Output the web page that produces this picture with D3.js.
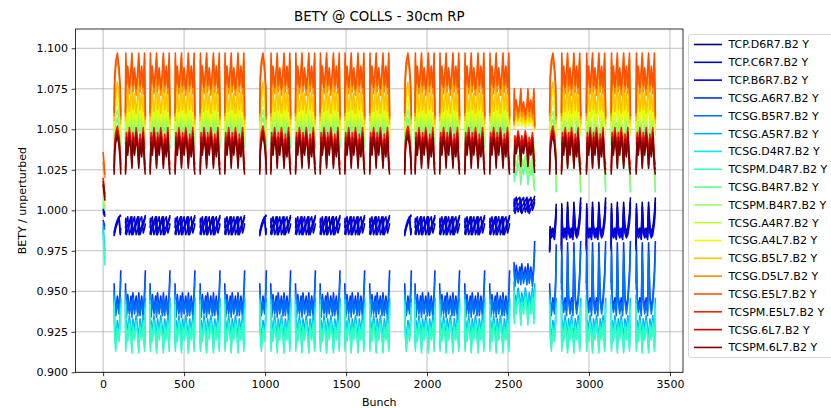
<!DOCTYPE html>
<html>
<head>
<meta charset="utf-8">
<script src="https://cdn.jsdelivr.net/npm/d3@7"></script>
<style>
  body { margin: 0; background: #fff; }
  svg { font-family: "DejaVu Sans", sans-serif; }
</style>
</head>
<body>
<svg class="chart"></svg>
<script>
var seriesNames = ['TCP.D6R7.B2 Y', 'TCP.C6R7.B2 Y', 'TCP.B6R7.B2 Y', 'TCSG.A6R7.B2 Y',
                   'TCSG.B5R7.B2 Y', 'TCSG.A5R7.B2 Y', 'TCSG.D4R7.B2 Y', 'TCSPM.D4R7.B2 Y',
                   'TCSG.B4R7.B2 Y', 'TCSPM.B4R7.B2 Y', 'TCSG.A4R7.B2 Y', 'TCSG.A4L7.B2 Y',
                   'TCSG.B5L7.B2 Y', 'TCSG.D5L7.B2 Y', 'TCSG.E5L7.B2 Y', 'TCSPM.E5L7.B2 Y',
                   'TCSG.6L7.B2 Y', 'TCSPM.6L7.B2 Y'];

// jet colours, one per series
var seriesColors = ['#000080', '#0000c4', '#0000ff', '#0035ff', '#0071ff', '#00adff',
                    '#02e9f4', '#33ffc4', '#63ff93', '#94ff63', '#c4ff33', '#f4f802',
                    '#ffc100', '#ff8900', '#ff5200', '#ff1a00', '#c40000', '#800000'];

// filling scheme: first bunch slot of each train and its kind
var trainStarts = [0, 68, 138, 290, 444, 599, 751, 967, 1035, 1188, 1340, 1492, 1646,
                   1862, 1926, 2078, 2233, 2387, 2537, 2757, 2830, 2984, 3137, 3291];
var trainKinds = ['first', 'short', 'full', 'full', 'full', 'full', 'full', 'short', 'full',
                  'full', 'full', 'full', 'full', 'short', 'full', 'full', 'full', 'full',
                  'special', 'lateShort', 'late', 'late', 'late', 'late'];

// bunch offsets (inside a train) of the values
var offsetsFirst   = [0, 11];
var offsetsShort   = [0, 3, 10, 20, 30, 38, 41];
var offsetsFull    = [0, 2, 6, 14, 24, 34, 40, 46, 56, 66, 76, 82, 90, 100, 110, 118, 123];
var offsetsSpecial = [0, 2, 6, 14, 25, 36, 42, 48, 59, 70, 80, 86, 94, 104, 114, 123, 128];
var offsetsLate    = [0, 2, 6, 14, 23, 32, 38, 44, 53, 62, 71, 77, 85, 94, 103, 113, 119];

var valuesFirst = [
  [1.001, 0.998], [1.000, 0.997], [0.999, 0.996], [0.994, 0.990], [0.992, 0.988],
  [0.990, 0.975], [0.988, 0.970], [0.985, 0.966], [1.004, 1.000], [1.006, 1.002],
  [1.008, 1.004], [1.011, 1.006], [1.016, 1.010], [1.030, 1.020], [1.036, 1.022],
  [1.020, 1.010], [1.018, 1.008], [1.016, 1.006]
];

var valuesShort = [
  [0.985, 0.986, 0.989, 0.992, 0.995, 0.997, 0.996],
  [0.986, 0.988, 0.990, 0.993, 0.996, 0.985, 0.987],
  [0.984, 0.987, 0.991, 0.994, 0.996, 0.986, 0.989],
  [0.955, 0.945, 0.937, 0.947, 0.938, 0.952, 0.963],
  [0.951, 0.941, 0.935, 0.944, 0.936, 0.949, 0.958],
  [0.948, 0.930, 0.918, 0.932, 0.924, 0.935, 0.946],
  [0.945, 0.927, 0.915, 0.929, 0.921, 0.932, 0.943],
  [0.942, 0.924, 0.913, 0.927, 0.919, 0.930, 0.940],
  [1.040, 1.048, 1.054, 1.057, 1.052, 1.046, 1.038],
  [1.044, 1.052, 1.058, 1.062, 1.057, 1.050, 1.042],
  [1.048, 1.057, 1.063, 1.068, 1.062, 1.055, 1.046],
  [1.052, 1.062, 1.068, 1.074, 1.067, 1.060, 1.050],
  [1.055, 1.066, 1.073, 1.079, 1.072, 1.064, 1.053],
  [1.058, 1.078, 1.088, 1.094, 1.085, 1.072, 1.056],
  [1.060, 1.082, 1.092, 1.097, 1.089, 1.076, 1.058],
  [1.026, 1.040, 1.048, 1.052, 1.046, 1.036, 1.028],
  [1.024, 1.037, 1.045, 1.049, 1.043, 1.033, 1.025],
  [1.022, 1.034, 1.042, 1.046, 1.040, 1.030, 1.022]
];

var valuesFull = [
  [0.985, 0.987, 0.989, 0.991, 0.993, 0.996, 0.985, 0.988, 0.990, 0.993, 0.996, 0.985, 0.988, 0.990, 0.993, 0.995, 0.997],
  [0.989, 0.991, 0.993, 0.996, 0.985, 0.988, 0.991, 0.993, 0.996, 0.985, 0.988, 0.991, 0.994, 0.996, 0.986, 0.989, 0.992],
  [0.992, 0.995, 0.985, 0.988, 0.991, 0.993, 0.996, 0.985, 0.988, 0.991, 0.994, 0.996, 0.985, 0.988, 0.991, 0.994, 0.996],
  [0.955, 0.944, 0.936, 0.948, 0.938, 0.947, 0.937, 0.949, 0.939, 0.947, 0.937, 0.949, 0.938, 0.947, 0.936, 0.950, 0.963],
  [0.951, 0.940, 0.934, 0.945, 0.936, 0.944, 0.934, 0.946, 0.936, 0.944, 0.935, 0.946, 0.935, 0.944, 0.934, 0.946, 0.958],
  [0.948, 0.918, 0.932, 0.924, 0.935, 0.927, 0.917, 0.933, 0.925, 0.935, 0.927, 0.917, 0.933, 0.925, 0.935, 0.918, 0.946],
  [0.945, 0.915, 0.929, 0.921, 0.932, 0.924, 0.914, 0.930, 0.922, 0.932, 0.924, 0.914, 0.930, 0.922, 0.932, 0.915, 0.943],
  [0.942, 0.913, 0.927, 0.919, 0.930, 0.922, 0.912, 0.928, 0.920, 0.930, 0.922, 0.912, 0.928, 0.920, 0.930, 0.913, 0.940],
  [1.040, 1.056, 1.044, 1.052, 1.042, 1.050, 1.057, 1.043, 1.051, 1.041, 1.049, 1.057, 1.043, 1.052, 1.042, 1.056, 1.038],
  [1.044, 1.061, 1.048, 1.057, 1.046, 1.055, 1.062, 1.047, 1.056, 1.045, 1.054, 1.062, 1.047, 1.057, 1.046, 1.061, 1.042],
  [1.048, 1.067, 1.053, 1.064, 1.051, 1.061, 1.068, 1.052, 1.062, 1.050, 1.060, 1.068, 1.052, 1.063, 1.051, 1.067, 1.046],
  [1.052, 1.073, 1.058, 1.069, 1.056, 1.066, 1.074, 1.057, 1.067, 1.055, 1.065, 1.074, 1.057, 1.068, 1.056, 1.073, 1.050],
  [1.055, 1.078, 1.063, 1.074, 1.061, 1.071, 1.079, 1.062, 1.072, 1.060, 1.070, 1.079, 1.062, 1.073, 1.061, 1.078, 1.053],
  [1.058, 1.093, 1.074, 1.085, 1.072, 1.083, 1.094, 1.073, 1.084, 1.071, 1.082, 1.094, 1.073, 1.085, 1.072, 1.093, 1.056],
  [1.060, 1.097, 1.078, 1.089, 1.076, 1.087, 1.097, 1.077, 1.088, 1.075, 1.086, 1.097, 1.077, 1.089, 1.076, 1.097, 1.058],
  [1.026, 1.032, 1.048, 1.040, 1.051, 1.043, 1.031, 1.048, 1.040, 1.051, 1.043, 1.031, 1.047, 1.039, 1.051, 1.032, 1.028],
  [1.024, 1.029, 1.045, 1.037, 1.048, 1.040, 1.028, 1.045, 1.037, 1.048, 1.040, 1.028, 1.044, 1.036, 1.048, 1.029, 1.025],
  [1.022, 1.026, 1.042, 1.034, 1.045, 1.037, 1.026, 1.042, 1.034, 1.045, 1.037, 1.026, 1.041, 1.033, 1.045, 1.026, 1.022]
];

var valuesSpecial = [
  [0.999, 1.001, 1.003, 1.005, 1.007, 1.008, 0.999, 1.002, 1.004, 1.006, 1.008, 0.999, 1.002, 1.004, 1.006, 1.007, 1.009],
  [1.002, 1.004, 1.006, 1.008, 0.999, 1.002, 1.004, 1.006, 1.008, 0.999, 1.002, 1.004, 1.006, 1.008, 1.000, 1.003, 1.005],
  [1.004, 1.007, 0.998, 1.001, 1.003, 1.005, 1.007, 0.998, 1.001, 1.003, 1.005, 1.007, 0.998, 1.001, 1.003, 1.005, 1.007],
  [0.968, 0.963, 0.956, 0.966, 0.958, 0.965, 0.957, 0.967, 0.958, 0.965, 0.957, 0.967, 0.958, 0.965, 0.956, 0.968, 0.981],
  [0.965, 0.960, 0.953, 0.962, 0.955, 0.962, 0.954, 0.963, 0.955, 0.962, 0.954, 0.963, 0.955, 0.962, 0.953, 0.964, 0.976],
  [0.956, 0.936, 0.948, 0.942, 0.952, 0.945, 0.935, 0.949, 0.942, 0.952, 0.945, 0.935, 0.949, 0.942, 0.952, 0.936, 0.955],
  [0.953, 0.933, 0.945, 0.939, 0.949, 0.942, 0.932, 0.946, 0.939, 0.949, 0.942, 0.932, 0.946, 0.939, 0.949, 0.933, 0.952],
  [0.950, 0.930, 0.942, 0.936, 0.946, 0.939, 0.929, 0.943, 0.936, 0.946, 0.939, 0.929, 0.943, 0.936, 0.946, 0.930, 0.949],
  [1.028, 1.018, 1.026, 1.022, 1.029, 1.024, 1.016, 1.027, 1.022, 1.029, 1.024, 1.016, 1.027, 1.022, 1.028, 1.015, 1.012],
  [1.034, 1.024, 1.031, 1.027, 1.034, 1.029, 1.021, 1.032, 1.027, 1.034, 1.029, 1.021, 1.032, 1.027, 1.033, 1.020, 1.016],
  [1.046, 1.040, 1.044, 1.042, 1.046, 1.043, 1.038, 1.045, 1.042, 1.046, 1.043, 1.038, 1.045, 1.042, 1.046, 1.039, 1.035],
  [1.050, 1.058, 1.053, 1.056, 1.052, 1.055, 1.059, 1.052, 1.056, 1.051, 1.055, 1.059, 1.052, 1.056, 1.052, 1.058, 1.049],
  [1.052, 1.062, 1.056, 1.060, 1.055, 1.059, 1.063, 1.055, 1.060, 1.054, 1.058, 1.063, 1.055, 1.060, 1.055, 1.062, 1.050],
  [1.053, 1.072, 1.059, 1.065, 1.057, 1.063, 1.072, 1.058, 1.064, 1.056, 1.062, 1.072, 1.058, 1.065, 1.057, 1.072, 1.051],
  [1.055, 1.075, 1.062, 1.068, 1.060, 1.066, 1.075, 1.061, 1.067, 1.059, 1.065, 1.075, 1.061, 1.068, 1.060, 1.075, 1.052],
  [1.030, 1.034, 1.046, 1.041, 1.049, 1.043, 1.033, 1.046, 1.041, 1.049, 1.043, 1.033, 1.045, 1.040, 1.048, 1.034, 1.030],
  [1.027, 1.031, 1.043, 1.038, 1.046, 1.040, 1.030, 1.043, 1.038, 1.046, 1.040, 1.030, 1.042, 1.037, 1.045, 1.031, 1.027],
  [1.023, 1.028, 1.040, 1.035, 1.043, 1.037, 1.027, 1.040, 1.035, 1.043, 1.037, 1.027, 1.039, 1.034, 1.042, 1.028, 1.023]
];

// late trains: only the series that change; null -> same as a full train
var valuesLate = [
  [0.978, 1.004, 0.990, 0.987, 0.989, 0.986, 1.005, 0.990, 0.987, 0.989, 0.986, 1.005, 0.990, 0.987, 0.989, 0.998, 1.008],
  [0.976, 1.001, 0.988, 0.985, 0.987, 0.984, 1.002, 0.988, 0.985, 0.987, 0.984, 1.002, 0.988, 0.985, 0.987, 0.995, 1.005],
  [0.975, 0.998, 0.986, 0.983, 0.985, 0.982, 0.999, 0.986, 0.983, 0.985, 0.982, 0.999, 0.986, 0.983, 0.985, 0.992, 1.002],
  [0.955, 0.978, 0.946, 0.940, 0.946, 0.938, 0.980, 0.947, 0.939, 0.946, 0.938, 0.980, 0.947, 0.939, 0.946, 0.962, 0.981],
  [0.951, 0.972, 0.943, 0.937, 0.943, 0.935, 0.974, 0.944, 0.936, 0.943, 0.935, 0.974, 0.944, 0.936, 0.943, 0.957, 0.975],
  null, null, null,
  [1.040, 1.052, 1.046, 1.050, 1.044, 1.049, 1.026, 1.046, 1.050, 1.043, 1.048, 1.025, 1.046, 1.050, 1.044, 1.024, 1.011],
  [1.044, 1.058, 1.050, 1.055, 1.048, 1.054, 1.030, 1.050, 1.055, 1.047, 1.053, 1.029, 1.050, 1.055, 1.048, 1.028, 1.014],
  null, null, null, null, null, null, null, null
];

// null -> same as a short train
var valuesLateShort = [
  [0.976, 0.990, 0.987, 0.989, 0.986, 0.998, 1.004],
  [0.975, 0.988, 0.985, 0.987, 0.984, 0.995, 1.001],
  [0.974, 0.986, 0.983, 0.985, 0.982, 0.992, 0.999],
  [0.955, 0.945, 0.937, 0.946, 0.938, 0.960, 0.979],
  [0.951, 0.941, 0.935, 0.943, 0.936, 0.955, 0.974],
  null, null, null,
  [1.040, 1.048, 1.054, 1.056, 1.050, 1.030, 1.011],
  [1.044, 1.052, 1.058, 1.061, 1.055, 1.034, 1.014],
  null, null, null, null, null, null, null, null
];

var yTicks = [0.900, 0.925, 0.950, 0.975, 1.000, 1.025, 1.050, 1.075, 1.100];
var xTicks = [0, 500, 1000, 1500, 2000, 2500, 3000, 3500];

var width = 831, height = 408;
var plot = {left: 75.5, right: 683, top: 29, bottom: 372.3};

var kindOffsets = {first: offsetsFirst, short: offsetsShort, full: offsetsFull,
                   special: offsetsSpecial, late: offsetsLate, lateShort: offsetsShort};

function kindValues(kind, s) {
    if (kind === 'first') return valuesFirst[s];
    if (kind === 'short') return valuesShort[s];
    if (kind === 'full') return valuesFull[s];
    if (kind === 'special') return valuesSpecial[s];
    if (kind === 'late') return valuesLate[s] || valuesFull[s];
    return valuesLateShort[s] || valuesShort[s];
}

// one polyline per series, broken between trains
var series = seriesNames.map(function(name, s) {
    var pts = [];
    trainStarts.forEach(function(start, t) {
        var offs = kindOffsets[trainKinds[t]];
        var vals = kindValues(trainKinds[t], s);
        offs.forEach(function(o, k) { pts.push({x: start + o, y: vals[k]}); });
        pts.push(null);
    });
    return {name: name, color: seriesColors[s], points: pts};
});

var allX = [];
series.forEach(function(d) { d.points.forEach(function(p) { if (p) allX.push(p.x); }); });
var xExt = d3.extent(allX);
var pad = (xExt[1] - xExt[0]) * 0.05;

var x = d3.scaleLinear().domain([xExt[0] - pad, xExt[1] + pad]).range([plot.left, plot.right]);
var y = d3.scaleLinear().domain([0.9, 1.1119]).range([plot.bottom, plot.top]);

var svg = d3.select('.chart').attr('width', width).attr('height', height);

svg.append('defs').append('clipPath').attr('id', 'clip')
    .append('rect')
    .attr('x', plot.left).attr('y', plot.top)
    .attr('width', plot.right - plot.left).attr('height', plot.bottom - plot.top);

// grid
var grid = svg.append('g').attr('stroke', '#b0b0b0').attr('stroke-width', 0.8);
grid.selectAll('.gx').data(xTicks).enter().append('line')
    .attr('x1', function(d) { return x(d); }).attr('x2', function(d) { return x(d); })
    .attr('y1', plot.top).attr('y2', plot.bottom);
grid.selectAll('.gy').data(yTicks).enter().append('line')
    .attr('x1', plot.left).attr('x2', plot.right)
    .attr('y1', function(d) { return y(d); }).attr('y2', function(d) { return y(d); });

var line = d3.line()
    .defined(function(d) { return d !== null; })
    .x(function(d) { return x(d.x); })
    .y(function(d) { return y(d.y); });

svg.append('g').attr('clip-path', 'url(#clip)')
    .selectAll('path').data(series).enter().append('path')
    .attr('d', function(d) { return line(d.points); })
    .attr('fill', 'none')
    .attr('stroke', function(d) { return d.color; })
    .attr('stroke-width', 1.6)
    .attr('stroke-linejoin', 'round');

// axes
var xAxis = d3.axisBottom(x).tickValues(xTicks).tickFormat(d3.format('d')).tickSize(3.9).tickPadding(3.5);
var yAxis = d3.axisLeft(y).tickValues(yTicks).tickFormat(d3.format('.3f')).tickSize(3.9).tickPadding(3.5);

var gx = svg.append('g').attr('transform', 'translate(0,' + plot.bottom + ')').call(xAxis);
var gy = svg.append('g').attr('transform', 'translate(' + plot.left + ',0)').call(yAxis);
[gx, gy].forEach(function(g) {
    g.select('.domain').remove();
    g.selectAll('.tick line').attr('stroke', '#000').attr('stroke-width', 0.8);
    g.selectAll('.tick text').attr('fill', '#000').style('font-size', '11px')
        .style('font-family', '"DejaVu Sans", sans-serif');
});

svg.append('rect')
    .attr('x', plot.left).attr('y', plot.top)
    .attr('width', plot.right - plot.left).attr('height', plot.bottom - plot.top)
    .attr('fill', 'none').attr('stroke', '#000').attr('stroke-width', 0.8);

// labels
svg.append('text')
    .attr('x', (plot.left + plot.right) / 2).attr('y', 20.5)
    .attr('text-anchor', 'middle').style('font-size', '13.3px')
    .text('BETY @ COLLS - 30cm RP');
svg.append('text')
    .attr('x', (plot.left + plot.right) / 2).attr('y', 406)
    .attr('text-anchor', 'middle').style('font-size', '11px')
    .text('Bunch');
svg.append('text')
    .attr('transform', 'translate(26,' + ((plot.top + plot.bottom) / 2) + ') rotate(-90)')
    .attr('text-anchor', 'middle').style('font-size', '11px')
    .text('BETY / unperturbed');

// legend
var legend = svg.append('g');
legend.append('rect')
    .attr('x', 688.5).attr('y', 34.5).attr('width', 160).attr('height', 323)
    .attr('rx', 2.5).attr('fill', '#fff').attr('fill-opacity', 0.8)
    .attr('stroke', '#cccccc').attr('stroke-width', 0.8);
var items = legend.selectAll('.item').data(series).enter().append('g')
    .attr('transform', function(d, i) { return 'translate(0,' + (44.5 + i * 17.82) + ')'; });
items.append('line')
    .attr('x1', 694).attr('x2', 722).attr('y1', 0).attr('y2', 0)
    .attr('stroke', function(d) { return d.color; }).attr('stroke-width', 1.6);
items.append('text')
    .attr('x', 728.5).attr('y', 0).attr('dy', '0.36em')
    .style('font-size', '11px')
    .text(function(d) { return d.name; });
</script>
</body>
</html>
